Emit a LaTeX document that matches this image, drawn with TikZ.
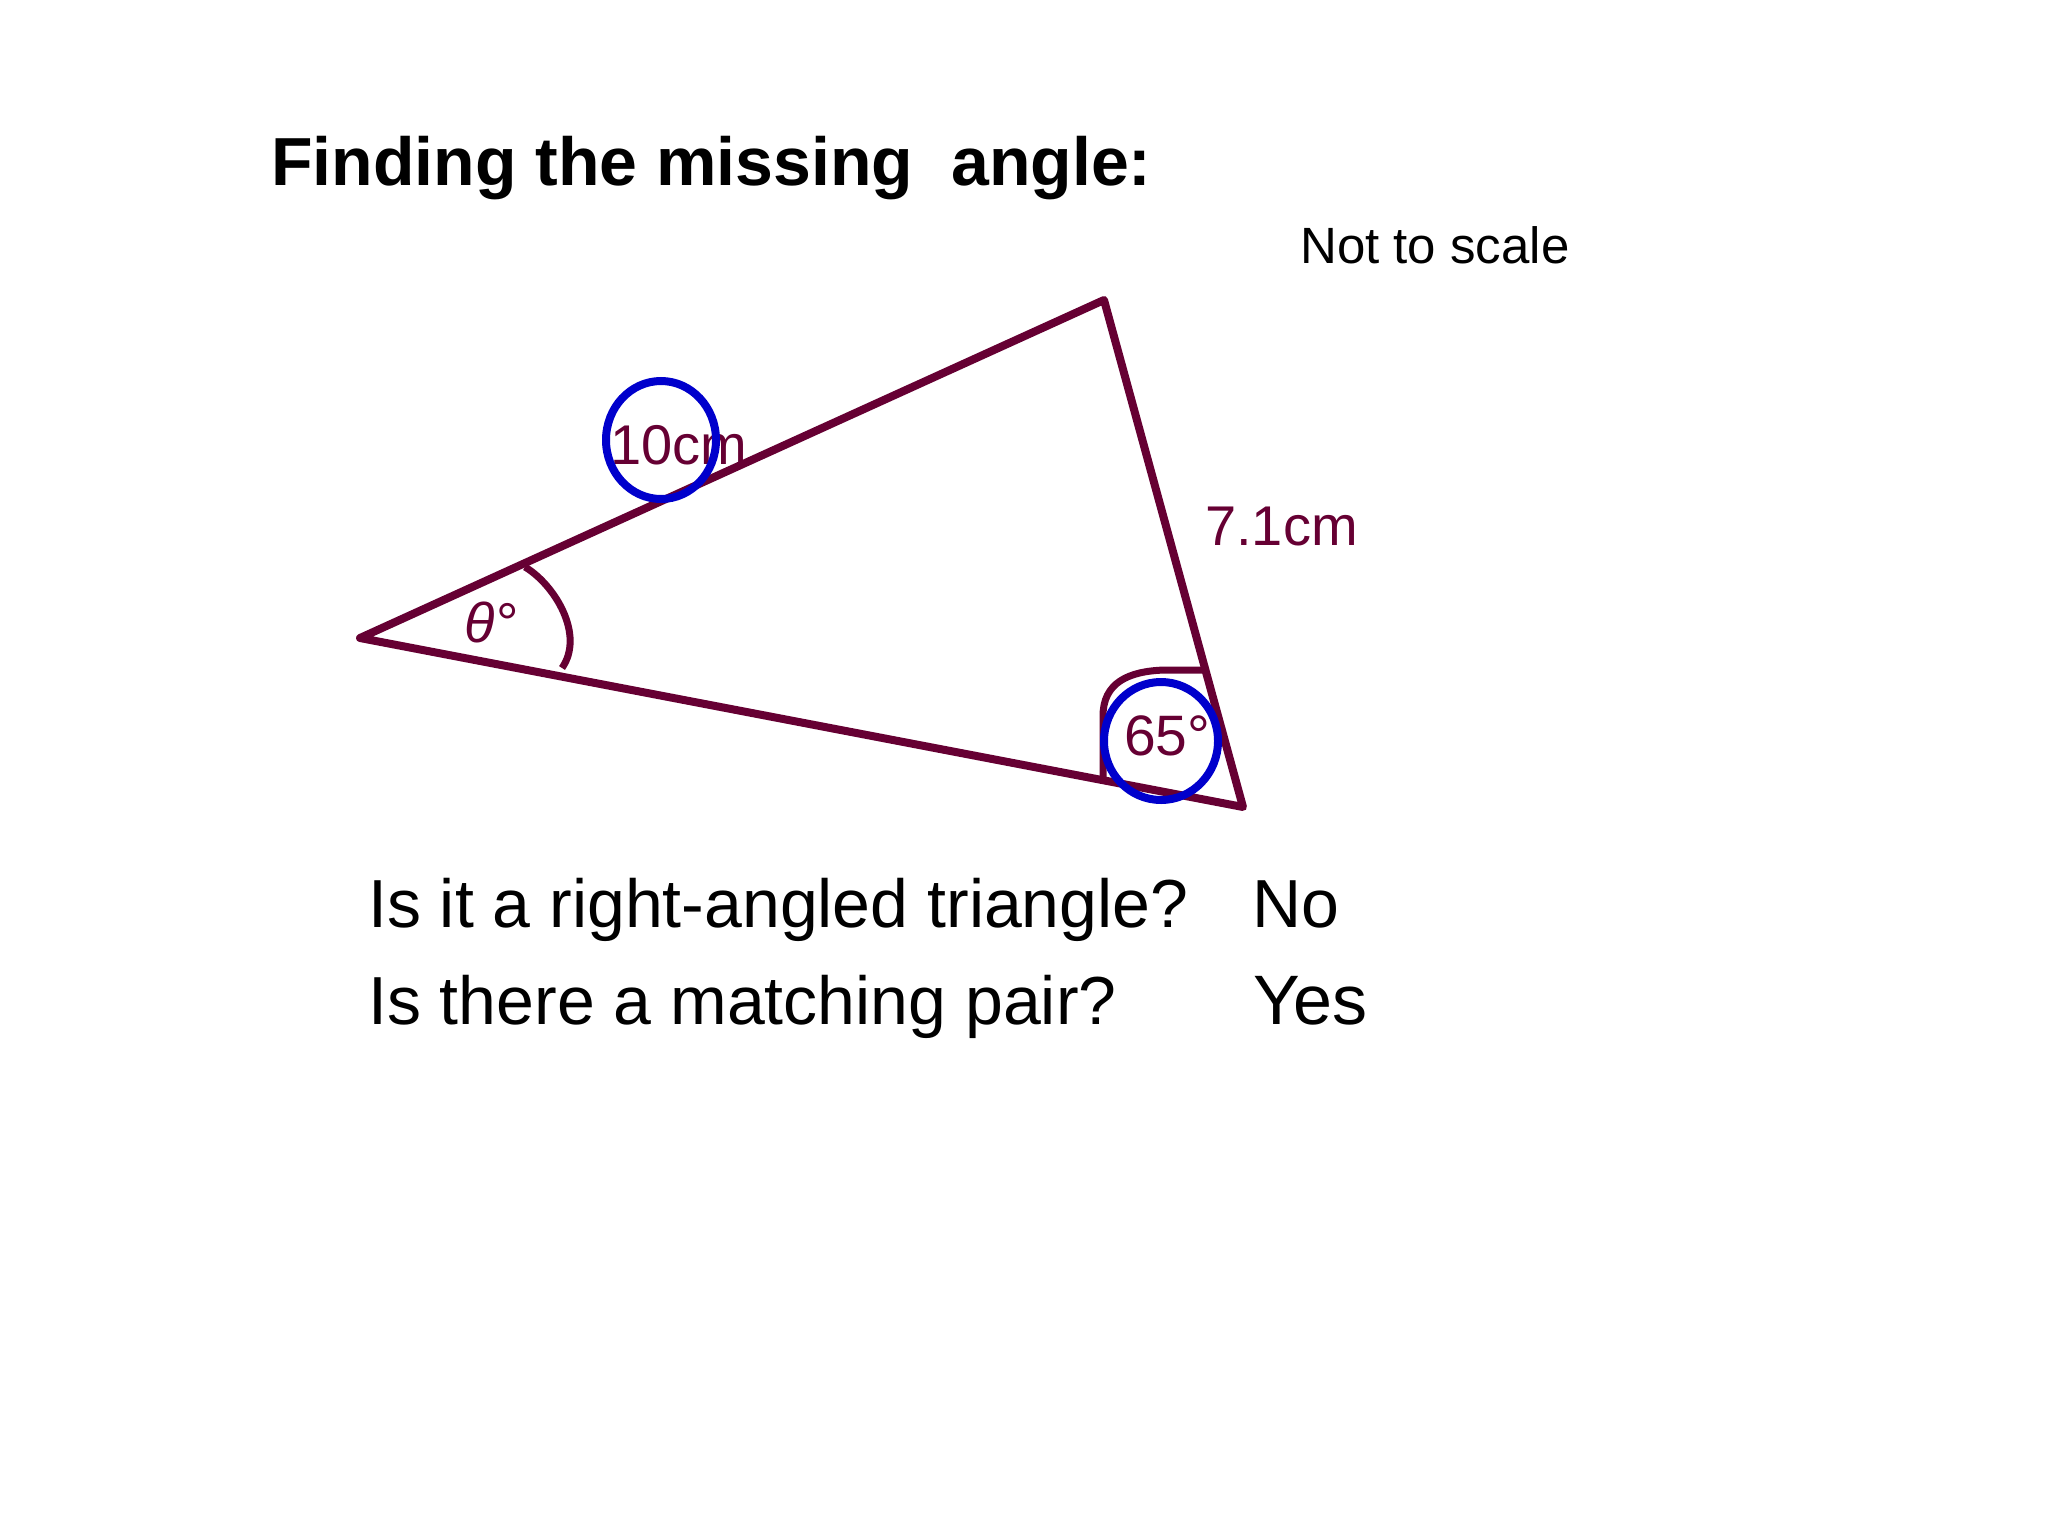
\documentclass[tikz,border=0pt]{standalone}
\usepackage{fontspec}
\setmainfont{Liberation Sans}
\definecolor{maroon}{RGB}{102,0,51}
\definecolor{ringblue}{RGB}{0,0,204}
\begin{document}
\begin{tikzpicture}[x=1pt,y=-1pt,
  edge/.style={draw=maroon,line width=8pt,line cap=round,line join=round},
  anglemark/.style={draw=maroon,line width=7pt,line cap=butt,line join=round},
  ring/.style={draw=ringblue,line width=8pt},
  lbl/.style={inner sep=0pt,anchor=base west,text=maroon},
  txt/.style={inner sep=0pt,anchor=base west,text=black}]
\useasboundingbox (0,0) rectangle (2048,1536);
% triangle
\coordinate (A) at (360,638);
\coordinate (B) at (1104,300);
\coordinate (C) at (1243,807);
\draw[edge] (A) -- (B) -- (C) -- cycle;
% angle marks
\coordinate (a1) at (525,567);
\coordinate (a2) at (562,668);
\draw[anglemark] (a1) .. controls (555,585) and (585,635) .. (a2);
\coordinate (c1) at (1103,780);
\coordinate (c2) at (1205,670);
\draw[anglemark] (c1) -- (1103,716) .. controls (1103,683) and (1128,671) .. (1165,670) -- (c2);
% labels
\node[lbl,font=\fontsize{56}{60}\selectfont] (len10) at (610,464) {10cm};
\node[lbl,font=\fontsize{56}{60}\selectfont] (len71) at (1205,545) {7.1cm};
\node[lbl,font=\fontsize{57}{60}\selectfont] (ang65) at (1124,755) {65°};
\node[lbl,font=\fontsize{56}{60}\selectfont\itshape] (theta) at (464,642) {θ°};
% blue rings
\draw[ring] (661,440) ellipse [x radius=55,y radius=59];
\draw[ring] (1161,741) ellipse [x radius=57,y radius=59];
% texts
\node[txt,font=\fontsize{68}{80}\selectfont\bfseries] (title) at (271,185) {Finding the missing\ \ angle:};
\node[txt,font=\fontsize{51}{56}\selectfont] (nts) at (1300,263) {Not to scale};
\node[txt,font=\fontsize{68}{80}\selectfont] (q1) at (368,927) {Is it a right-angled triangle?};
\node[txt,font=\fontsize{68}{80}\selectfont] (q2) at (368,1024) {Is there a matching pair?};
\node[txt,font=\fontsize{68}{80}\selectfont] (a1t) at (1252,927) {No};
\node[txt,font=\fontsize{70}{80}\selectfont] (a2t) at (1253,1024) {Yes};
\end{tikzpicture}
\end{document}
